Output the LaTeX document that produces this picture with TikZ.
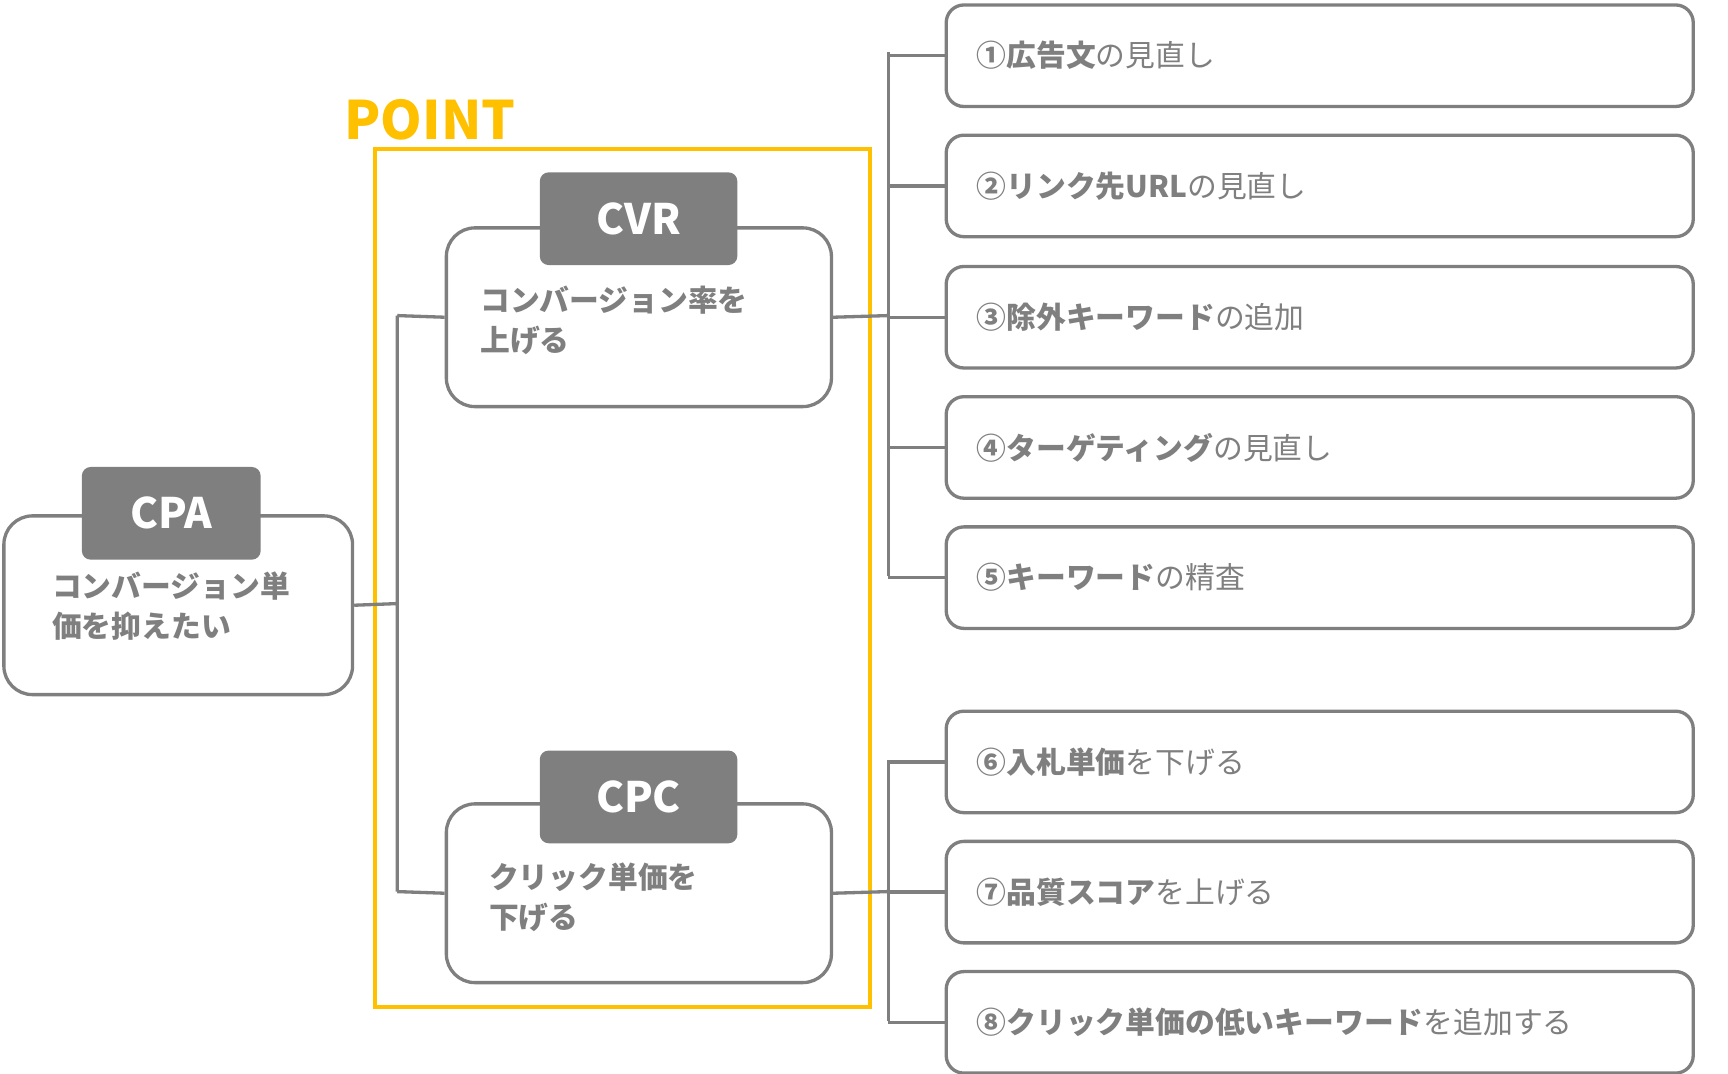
\documentclass[tikz,border=0pt]{standalone}
\usepackage{fontspec}
\setmainfont{Noto Sans CJK JP}
\definecolor{lg}{HTML}{7F7F7F}
\definecolor{yl}{HTML}{FFC000}
\tikzset{
 box/.style={draw=lg,line width=3pt,rounded corners=26pt,fill=white,anchor=north west,inner sep=0pt},
 tab/.style={fill=lg,rounded corners=8pt,anchor=north west,inner sep=0pt,text=white,font=\bfseries\fontsize{38}{40}\selectfont},
 body/.style={anchor=north west,align=left,text=lg,inner sep=0pt,font=\bfseries\fontsize{27}{36}\selectfont},
 item/.style={draw=lg,line width=3pt,rounded corners=16pt,fill=white,anchor=north west,inner sep=0pt,minimum width=677pt,minimum height=92pt},
 itxt/.style={anchor=west,text=lg,inner sep=0pt,font=\fontsize{27}{30}\selectfont},
 ln/.style={draw=lg,line width=3pt},
}
\begin{document}
\begin{tikzpicture}[x=1pt,y=-1pt]
\useasboundingbox (0,0) rectangle (1566,973);
% yellow frame
\node[draw=yl,line width=3.5pt,anchor=north west,minimum width=449pt,minimum height=778pt,inner sep=0pt] (pt) at (338,133) {};
\node[text=yl,font=\bfseries\fontsize{48}{50}\selectfont,anchor=south west,inner sep=0pt] (ptl) at (312,127) {POINT};
% connectors
\coordinate (j1) at (360,547);
\coordinate (j2) at (805,286);
\coordinate (j3) at (805,808);
% main boxes
\node[box,minimum width=316pt,minimum height=162pt] (cpa) at (2,466) {};
\node[box,minimum width=349pt,minimum height=162pt] (cvr) at (403,205) {};
\node[box,minimum width=349pt,minimum height=162pt] (cpc) at (403,727) {};
\draw[ln] (cpa.east) -- (j1) (360,286) -- (360,808);
\draw[ln] (360,286) -- (cvr.west);
\draw[ln] (360,808) -- (cpc.west);
\node[tab,minimum width=162pt,minimum height=84pt] (tcpa) at (74,423) {CPA};
\node[tab,minimum width=179pt,minimum height=84pt] (tcvr) at (489,156) {CVR};
\node[tab,minimum width=179pt,minimum height=84pt] (tcpc) at (489,680) {CPC};
\node[body] (bcpa) at (47,518) {コンバージョン単\\価を抑えたい};
\node[body] (bcvr) at (435,259) {コンバージョン率を\\上げる};
\node[body] (bcpc) at (443,782) {クリック単価を\\下げる};
% right items
\foreach \n/\y/\b/\r in {1/3/①広告文/の見直し,2/121/②リンク先URL/の見直し,3/240/③除外キーワード/の追加,4/358/④ターゲティング/の見直し,5/476/⑤キーワード/の精査,6/643/⑥入札単価/を下げる,7/761/⑦品質スコア/を上げる,8/879/⑧クリック単価の低いキーワード/を追加する}{
 \node[item] (i\n) at (856,\y) {};
 \node[itxt] (t\n) at ([xshift=29pt]i\n.west) {{\bfseries\b}\r};
}
\draw[ln] (cvr.east) -- (j2);
\draw[ln] (805,47) -- (805,522);
\foreach \n in {1,...,5}{\draw[ln] (805,0 |- i\n.west) -- (i\n.west);}
\draw[ln] (cpc.east) -- (j3);
\draw[ln] (805,689) -- (805,925);
\foreach \n in {6,7,8}{\draw[ln] (805,0 |- i\n.west) -- (i\n.west);}
\end{tikzpicture}
\end{document}
